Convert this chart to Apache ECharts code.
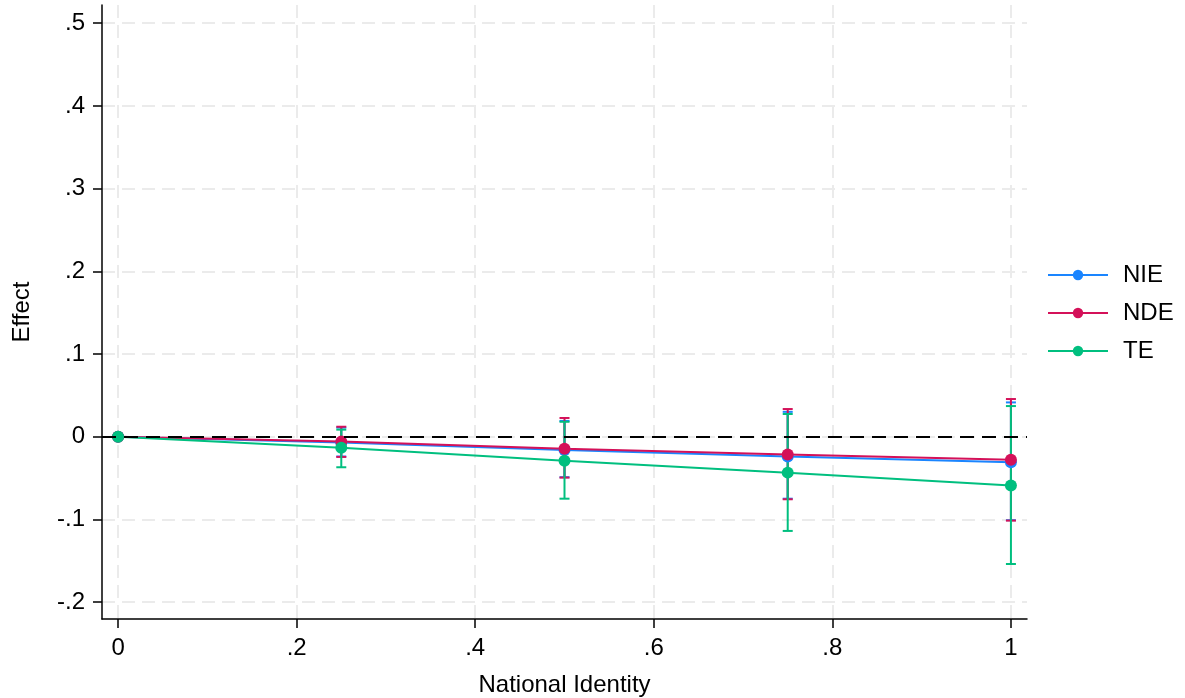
<!DOCTYPE html>
<html><head><meta charset="utf-8">
<script src="https://cdn.jsdelivr.net/npm/echarts@6/dist/echarts.min.js"></script>
<style>html,body{margin:0;padding:0;background:#fff}#c{width:1185px;height:698px}</style>
</head><body><div id="c"></div>
<script>
const xs = [0, 0.25, 0.5, 0.75, 1];
const nie = [0, -0.007, -0.016, -0.024, -0.031];
const nde = [0, -0.006, -0.0145, -0.0215, -0.028];
const te = [0, -0.0133, -0.029, -0.0435, -0.059];
const nieLo = [0, -0.024, -0.049, -0.075, -0.101];
const nieHi = [0, 0.011, 0.019, 0.030, 0.0414];
const ndeLo = [0, -0.0245, -0.0495, -0.0757, -0.1015];
const ndeHi = [0, 0.012, 0.0226, 0.0334, 0.0455];
const teLo = [0, -0.037, -0.075, -0.114, -0.154];
const teHi = [0, 0.0085, 0.018, 0.0274, 0.037];
const xTicks = [0, 0.2, 0.4, 0.6, 0.8, 1];
const yTicks = [-0.2, -0.1, 0, 0.1, 0.2, 0.3, 0.4, 0.5];

const colors = {NIE: '#1a85ff', NDE: '#d41159', TE: '#00bf7f'};
const FONT = '"Liberation Sans", Arial, Helvetica, sans-serif';
const FS = 24;
const fmt = v => {
  if (Math.abs(v) < 1e-9) return '0';
  let s = String(Math.round(v * 10) / 10);
  return s.replace(/^(-?)0\./, '$1.');
};

function errSeries(name, lo, hi) {
  const data = xs.map((x, i) => [x, lo[i], hi[i]]).filter(d => d[1] !== d[2]);
  return {
    type: 'custom', name: name + ' CI', data: data, z: 3,
    renderItem: function (params, api) {
      const x = api.value(0);
      const p1 = api.coord([x, api.value(1)]);
      const p2 = api.coord([x, api.value(2)]);
      const w = 5;
      const st = {stroke: colors[name], lineWidth: 2};
      return {type: 'group', children: [
        {type: 'line', shape: {x1: p1[0], y1: p1[1], x2: p2[0], y2: p2[1]}, style: st},
        {type: 'line', shape: {x1: p1[0] - w, y1: p1[1], x2: p1[0] + w, y2: p1[1]}, style: st},
        {type: 'line', shape: {x1: p2[0] - w, y1: p2[1], x2: p2[0] + w, y2: p2[1]}, style: st}
      ]};
    },
    encode: {x: 0, y: [1, 2]}
  };
}
function lineSeries(name, vals) {
  return {
    type: 'line', name: name, data: xs.map((x, i) => [x, vals[i]]), z: 4,
    symbol: 'circle', symbolSize: 12, showSymbol: true,
    lineStyle: {color: colors[name], width: 2},
    itemStyle: {color: colors[name]}
  };
}

const chart = echarts.init(document.getElementById('c'), null, {renderer: 'canvas'});
chart.setOption({
  animation: false,
  backgroundColor: '#fff',
  textStyle: {fontFamily: FONT},
  grid: {left: 102, right: 158, top: 5, bottom: 79, containLabel: false, outerBoundsMode: 'none'},
  legend: {
    data: ['NIE', 'NDE', 'TE'], orient: 'vertical', left: 1047, top: 263, padding: 0,
    itemWidth: 60, itemHeight: 13, itemGap: 14,
    textStyle: {fontSize: FS, color: '#000', fontFamily: FONT, padding: [0, 0, 0, 10]}
  },
  xAxis: {
    type: 'value', min: -0.018, max: 1.018,
    name: 'National Identity', nameLocation: 'middle', nameGap: 54,
    nameTextStyle: {fontSize: FS, color: '#000', fontFamily: FONT},
    axisLine: {show: true, onZero: false, lineStyle: {color: '#000', width: 1.5}},
    axisTick: {show: true, length: 9, customValues: xTicks, lineStyle: {color: '#000', width: 1.5}},
    axisLabel: {customValues: xTicks, formatter: fmt, fontSize: FS, color: '#000', margin: 17, fontFamily: FONT},
    splitLine: {show: true, lineStyle: {color: '#ebebeb', width: 2, type: [13, 7]}}
  },
  yAxis: {
    type: 'value', min: -0.2205, max: 0.522,
    name: 'Effect', nameLocation: 'middle', nameGap: 68, nameRotate: 90,
    nameTextStyle: {fontSize: FS, color: '#000', fontFamily: FONT},
    axisLine: {show: true, onZero: false, lineStyle: {color: '#000', width: 1.5}},
    axisTick: {show: true, length: 9, customValues: yTicks, lineStyle: {color: '#000', width: 1.5}},
    axisLabel: {customValues: yTicks, formatter: fmt, fontSize: FS, color: '#000', margin: 17, fontFamily: FONT},
    splitLine: {show: true, lineStyle: {color: '#ebebeb', width: 2, type: [13, 7]}}
  },
  series: [
    {
      type: 'line', name: 'zero', data: [], z: 2,
      markLine: {
        silent: true, symbol: 'none', label: {show: false},
        lineStyle: {color: '#000', width: 2, type: [14, 8]},
        data: [{yAxis: 0}]
      }
    },
    errSeries('NIE', nieLo, nieHi),
    errSeries('NDE', ndeLo, ndeHi),
    errSeries('TE', teLo, teHi),
    lineSeries('NIE', nie),
    lineSeries('NDE', nde),
    lineSeries('TE', te)
  ]
});
</script></body></html>
